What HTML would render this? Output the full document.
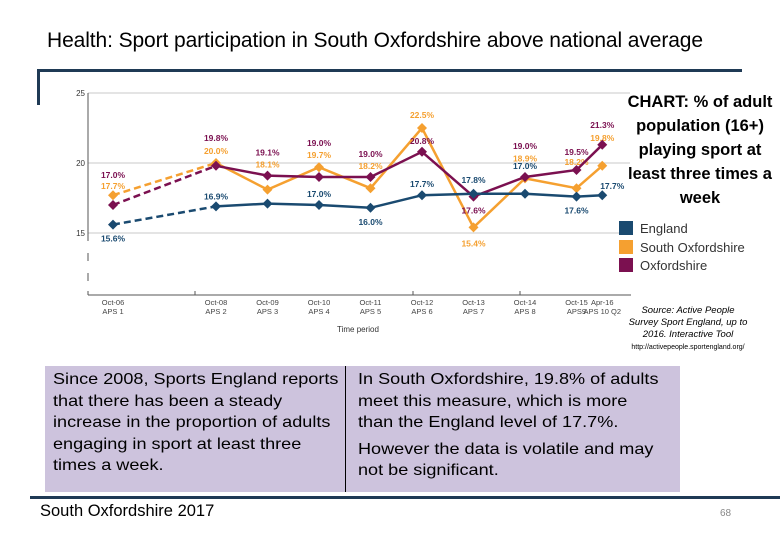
<!DOCTYPE html>
<html><head><meta charset="utf-8">
<style>
body{margin:0;width:780px;height:540px;background:#fff;position:relative;overflow:hidden;font-family:"Liberation Sans",sans-serif}
.abs{position:absolute}
.ln{white-space:nowrap}
</style></head><body>
<div class="abs" style="left:47px;top:29px;font-size:21px;color:#000;letter-spacing:-0.1px;white-space:nowrap">Health: Sport participation in South Oxfordshire above national average</div>
<div class="abs" style="left:37px;top:69px;width:705px;height:3px;background:#1f3a55"></div>
<div class="abs" style="left:37px;top:69px;width:3px;height:36px;background:#1f3a55"></div>
<svg class="abs" style="left:0;top:0" width="780" height="360" id="chart"></svg>
<div class="abs" style="left:618px;top:90px;width:164px;text-align:center;font-size:16.5px;font-weight:bold;line-height:24px;color:#000">CHART: % of adult population (16+) playing sport at least three times a week</div>
<div class="abs" style="left:619px;top:220px;font-size:13px;color:#333;line-height:18.5px">
<div><span style="display:inline-block;width:14px;height:14px;background:#1a4a70;vertical-align:-2px;margin-right:7px"></span>England</div>
<div><span style="display:inline-block;width:14px;height:14px;background:#f5a030;vertical-align:-2px;margin-right:7px"></span>South Oxfordshire</div>
<div><span style="display:inline-block;width:14px;height:14px;background:#7b1050;vertical-align:-2px;margin-right:7px"></span>Oxfordshire</div>
</div>
<div class="abs" style="left:628px;top:305px;width:120px;text-align:center;font-size:9.5px;font-style:italic;line-height:12px;color:#000">Source: Active People Survey Sport England, up to 2016. Interactive Tool<br><span style="font-style:normal;font-size:7px">http://activepeople.sportengland.org/</span></div>
<div class="abs" style="left:45px;top:366px;width:635px;height:126px;background:#cdc3dd"></div>
<div class="abs" style="left:345px;top:366px;width:1px;height:126px;background:#000"></div>
<div class="abs" style="left:53px;top:369px;font-size:16px;line-height:21.5px;color:#000;transform:scaleX(1.13);transform-origin:0 0">
<div class="ln">Since 2008, Sports England reports</div><div class="ln">that there has been a steady</div><div class="ln">increase in the proportion of adults</div><div class="ln">engaging in sport at least three</div><div class="ln">times a week.</div></div>
<div class="abs" style="left:358px;top:369px;font-size:16px;line-height:21.5px;color:#000;transform:scaleX(1.13);transform-origin:0 0">
<div class="ln">In South Oxfordshire, 19.8% of adults</div><div class="ln">meet this measure, which is more</div><div class="ln">than the England level of 17.7%.</div><div class="ln" style="margin-top:5px">However the data is volatile and may</div><div class="ln">not be significant.</div></div>
<div class="abs" style="left:30px;top:496px;width:750px;height:3px;background:#1f3a55"></div>
<div class="abs" style="left:40px;top:502px;font-size:16.5px;color:#000">South Oxfordshire  2017</div>
<div class="abs" style="left:720px;top:508px;font-size:10px;color:#888">68</div>
<script>
const categories1=["Oct-06","Oct-08","Oct-09","Oct-10","Oct-11","Oct-12","Oct-13","Oct-14","Oct-15","Apr-16"];
const categories2=["APS 1","APS 2","APS 3","APS 4","APS 5","APS 6","APS 7","APS 8","APS9","APS 10 Q2"];
const catIndex=[0,2,3,4,5,6,7,8,9,9.5];
const england=[15.6,16.9,17.1,17.0,16.8,17.7,17.8,17.8,17.6,17.7];
const southOx=[17.7,20.0,18.1,19.7,18.2,22.5,15.4,18.9,18.2,19.8];
const oxon=[17.0,19.8,19.1,19.0,19.0,20.8,17.6,19.0,19.5,21.3];
const englandLabels=["15.6%","16.9%","","17.0%","16.0%","17.7%","17.8%","17.0%","17.6%","17.7%"];
const southOxLabels=["17.7%","20.0%","18.1%","19.7%","18.2%","22.5%","15.4%","18.9%","18.2%","19.8%"];
const oxonLabels=["17.0%","19.8%","19.1%","19.0%","19.0%","20.8%","17.6%","19.0%","19.5%","21.3%"];
const yTicks=[15,20,25];
const svg=document.getElementById('chart');const NS='http://www.w3.org/2000/svg';
function xs(i){return i===0?113:216+(i-2)*51.5;}
function y(v){return 233-(v-15)*14;}
function el(t,a,name){const e=document.createElementNS(NS,t);for(const k in a)e.setAttribute(k,a[k]);


svg.appendChild(e);return e;}
yTicks.forEach(v=>{el('line',{x1:88,x2:630,y1:y(v),y2:y(v),stroke:'#c8c8c8','stroke-width':1},'gridline');
const t=el('text',{x:85,y:y(v)+3,'text-anchor':'end','font-size':8,'font-family':'Liberation Sans,sans-serif',fill:'#333'},'y-tick-label');t.textContent=v;});
el('line',{x1:88,x2:88,y1:y(25),y2:y(15),stroke:'#555','stroke-width':1},'y-axis');
el('line',{x1:88,x2:88,y1:y(15),y2:295,stroke:'#555','stroke-width':1,'stroke-dasharray':'8,12'},'y-axis-break');
el('line',{x1:88,x2:631,y1:295,y2:295,stroke:'#555','stroke-width':1},'x-axis');
[88,195,413,520].forEach(p=>el('line',{x1:p,x2:p,y1:291,y2:295,stroke:'#555'},'x-tick'));
categories1.forEach((c,i)=>{const px=xs(catIndex[i]);
const t=el('text',{x:px,y:305,'text-anchor':'middle','font-size':7.5,'font-family':'Liberation Sans,sans-serif',fill:'#444'},'x-tick-label');t.textContent=c;
const t2=el('text',{x:px,y:314,'text-anchor':'middle','font-size':7.5,'font-family':'Liberation Sans,sans-serif',fill:'#444'},'x-tick-label');t2.textContent=categories2[i];});
const tp=el('text',{x:358,y:332,'text-anchor':'middle','font-size':8,'font-family':'Liberation Sans,sans-serif',fill:'#333'},'x-axis-title');tp.textContent='Time period';
function series(data,color,name,labels,off,dx){
const p=data.map((v,i)=>[xs(catIndex[i]),y(v)]);
el('line',{x1:p[0][0],y1:p[0][1],x2:p[1][0],y2:p[1][1],stroke:color,'stroke-width':2.5,'stroke-dasharray':'7,4'},name+'-dashed-segment');
el('polyline',{points:p.slice(1).map(q=>q.join(',')).join(' '),fill:'none',stroke:color,'stroke-width':2.5},name+'-line');
p.forEach((q,i)=>{el('polygon',{points:`${q[0]},${q[1]-5} ${q[0]+5},${q[1]} ${q[0]},${q[1]+5} ${q[0]-5},${q[1]}`,fill:color},name+'-point');
if(labels[i]){const t=el('text',{x:q[0]+(i===9?dx:0),y:q[1]+off[i],'text-anchor':'middle','font-size':8.5,'font-weight':'bold','font-family':'Liberation Sans,sans-serif',fill:color},name+'-value-label');t.textContent=labels[i];}});}
series(southOx,'#f5a030','south-oxfordshire',southOxLabels,[-6,-9,-22,-9,-19,-10,19,-17,-23,-25],0);
series(oxon,'#7b1050','oxfordshire',oxonLabels,[-27,-25,-20,-31,-20,-8,17,-28,-15,-17],0);
series(england,'#1a4a70','england',englandLabels,[17,-7,0,-8,17,-8,-11,-25,17,-6],10);
</script>
</body></html>
